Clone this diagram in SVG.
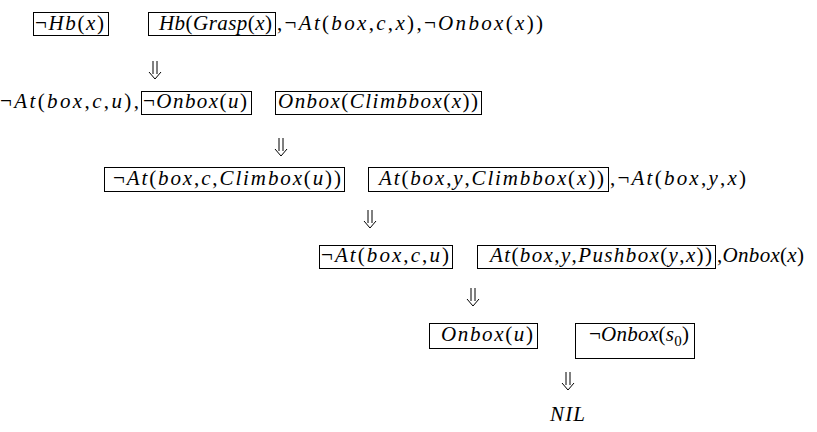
<svg xmlns="http://www.w3.org/2000/svg" width="817" height="432" viewBox="0 0 817 432">
<style>
text{font-family:'Liberation Serif','Times New Roman',Times,serif;font-size:21px;font-style:italic;fill:#000}
.r{font-style:normal}
.box{fill:none;stroke:#000;stroke-width:1}
.arr{fill:none;stroke:#000;stroke-width:1}
.sub{font-size:15px;font-style:normal}
</style>
<rect width="817" height="432" fill="#fff"/>
<g id="row1">
<g id="n1"><rect class="box" x="33.5" y="12.5" width="75" height="23"/><text x="35" y="30" textLength="69"><tspan class="r">¬</tspan>Hb<tspan class="r">(</tspan>x<tspan class="r">)</tspan></text></g>
<g id="n2"><rect class="box" x="148.5" y="12.5" width="127" height="23"/><text x="159" y="30" textLength="113">Hb<tspan class="r">(</tspan>Grasp<tspan class="r">(</tspan>x<tspan class="r">)</tspan></text></g>
<g id="n3"><text x="277" y="30" textLength="266"><tspan class="r">,¬</tspan>At<tspan class="r">(</tspan>box<tspan class="r">,</tspan>c<tspan class="r">,</tspan>x<tspan class="r">),¬</tspan>Onbox<tspan class="r">(</tspan>x<tspan class="r">))</tspan></text></g>
</g>
<g id="row2">
<g id="n4"><text x="0" y="108" textLength="139"><tspan class="r">¬</tspan>At<tspan class="r">(</tspan>box<tspan class="r">,</tspan>c<tspan class="r">,</tspan>u<tspan class="r">),</tspan></text></g>
<g id="n5"><rect class="box" x="141.5" y="91.5" width="110" height="23"/><text x="143" y="108" textLength="104"><tspan class="r">¬</tspan>Onbox<tspan class="r">(</tspan>u<tspan class="r">)</tspan></text></g>
<g id="n6"><rect class="box" x="275.5" y="91.5" width="206" height="23"/><text x="278" y="108" textLength="200">Onbox<tspan class="r">(</tspan>Climbbox<tspan class="r">(</tspan>x<tspan class="r">))</tspan></text></g>
</g>
<g id="row3">
<g id="n7"><rect class="box" x="104.5" y="167.5" width="240" height="24"/><text x="113" y="185" textLength="228"><tspan class="r">¬</tspan>At<tspan class="r">(</tspan>box<tspan class="r">,</tspan>c<tspan class="r">,</tspan>Climbox<tspan class="r">(</tspan>u<tspan class="r">))</tspan></text></g>
<g id="n8"><rect class="box" x="368.5" y="167.5" width="240" height="24"/><text x="379" y="185" textLength="225">At<tspan class="r">(</tspan>box<tspan class="r">,</tspan>y<tspan class="r">,</tspan>Climbbox<tspan class="r">(</tspan>x<tspan class="r">))</tspan></text></g>
<g id="n9"><text x="610" y="185" textLength="136"><tspan class="r">,¬</tspan>At<tspan class="r">(</tspan>box<tspan class="r">,</tspan>y<tspan class="r">,</tspan>x<tspan class="r">)</tspan></text></g>
</g>
<g id="row4">
<g id="n10"><rect class="box" x="319.5" y="245.5" width="133" height="23"/><text x="321" y="262" textLength="128"><tspan class="r">¬</tspan>At<tspan class="r">(</tspan>box<tspan class="r">,</tspan>c<tspan class="r">,</tspan>u<tspan class="r">)</tspan></text></g>
<g id="n11"><rect class="box" x="477.5" y="245.5" width="238" height="23"/><text x="490" y="262" textLength="222">At<tspan class="r">(</tspan>box<tspan class="r">,</tspan>y<tspan class="r">,</tspan>Pushbox<tspan class="r">(</tspan>y<tspan class="r">,</tspan>x<tspan class="r">))</tspan></text></g>
<g id="n12"><text x="717" y="262" textLength="87"><tspan class="r">,</tspan>Onbox<tspan class="r">(</tspan>x<tspan class="r">)</tspan></text></g>
</g>
<g id="row5">
<g id="n13"><rect class="box" x="429.5" y="323.5" width="108" height="25"/><text x="441" y="341" textLength="92">Onbox<tspan class="r">(</tspan>u<tspan class="r">)</tspan></text></g>
<g id="n14"><rect class="box" x="575.5" y="323.5" width="119" height="35"/><text x="589" y="341" textLength="100"><tspan class="r">¬</tspan>Onbox<tspan class="r">(</tspan>s<tspan class="sub" dy="5">0</tspan><tspan class="r" dy="-5">)</tspan></text></g>
</g>
<g id="n15"><text x="550" y="421" textLength="35">NIL</text></g>
<g id="connectors">
<path class="arr" d="M153 61V74M157 61V74M149 72L155 79L161 72"/>
<path class="arr" d="M279 138V151M283 138V151M275 149L281 156L287 149"/>
<path class="arr" d="M368 210V223M372 210V223M364 221L370 228L376 221"/>
<path class="arr" d="M471 288V301M475 288V301M467 299L473 306L479 299"/>
<path class="arr" d="M566 372V385M570 372V385M562 383L568 390L574 383"/>
</g>
</svg>
